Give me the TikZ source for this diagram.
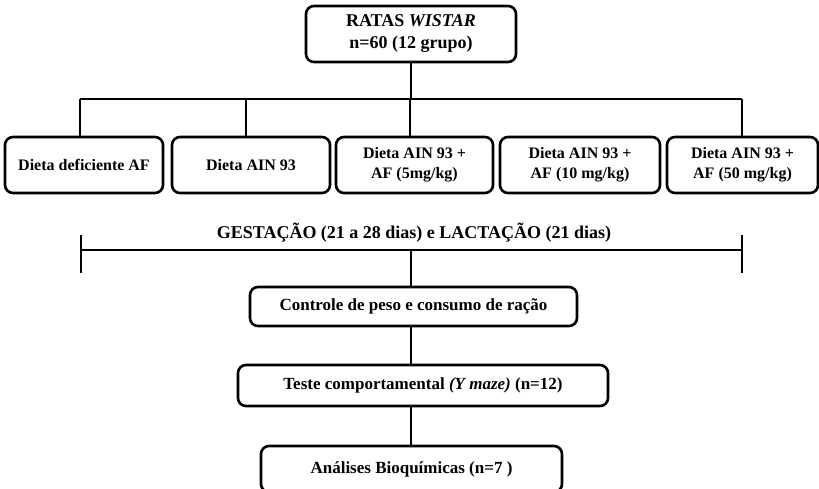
\documentclass[tikz,border=0pt]{standalone}
\usepackage{fontspec}
\setmainfont{Liberation Serif}
\begin{document}
\begin{tikzpicture}[x=1pt,y=-1pt,
  box/.style={draw,line width=2.6pt,rounded corners=8pt,align=center,font=\bfseries\fontsize{16}{20}\selectfont,inner sep=0pt},
  big/.style={font=\bfseries\fontsize{17}{20}\selectfont},
  conn/.style={line width=2.6pt},
]
\useasboundingbox (0,0) rectangle (819,488);
\node[box,minimum width=210pt,minimum height=56pt,font=\bfseries\fontsize{18}{22}\selectfont] (top) at (411,34) {RATAS \textit{WISTAR}\\n=60 (12 grupo)};
\node[box,minimum width=158pt,minimum height=56pt] (b1) at (84,165) {Dieta deficiente AF};
\node[box,minimum width=158pt,minimum height=56pt] (b2) at (251,165) {Dieta AIN 93};
\node[box,minimum width=157pt,minimum height=56pt,text depth=4pt] (b3) at (414.5,165) {Dieta AIN 93 +\\AF (5mg/kg)};
\node[box,minimum width=160pt,minimum height=56pt,text depth=4pt] (b4) at (580,165) {Dieta AIN 93 +\\AF (10 mg/kg)};
\node[box,minimum width=151pt,minimum height=56pt,text depth=4pt] (b5) at (742.5,165) {Dieta AIN 93 +\\AF (50 mg/kg)};
\coordinate (hl) at (80,99);
\coordinate (hr) at (742,99);
\coordinate (hm) at (411,99);
\coordinate (h2) at (246,99);
\coordinate (h3) at (410,99);
\draw[conn] (top.south) -- (hm);
\draw[conn] (hl) -- (hr);
\draw[conn] (hl) -- (hl |- b1.north);
\draw[conn] (h2) -- (h2 |- b2.north);
\draw[conn] (h3) -- (h3 |- b3.north);
\draw[conn] (hr) -- (hr |- b5.north);
\node[font=\bfseries\fontsize{18}{21}\selectfont] (gest) at (414,233) {GESTAÇÃO (21 a 28 dias) e LACTAÇÃO (21 dias)};
\coordinate (gl) at (81,250);
\coordinate (gr) at (742,250);
\coordinate (gm) at (411,250);
\coordinate (glt) at (81,235);
\coordinate (glb) at (81,273);
\coordinate (grt) at (742,235);
\coordinate (grb) at (742,273);
\draw[conn] (gl) -- (gr);
\draw[conn] (glt) -- (glb);
\draw[conn] (grt) -- (grb);
\node[box,big,minimum width=327pt,minimum height=39pt] (c1) at (413.5,306.5) {Controle de peso e consumo de ração};
\node[box,big,minimum width=370pt,minimum height=41pt] (c2) at (423,385.5) {Teste comportamental \textit{(Y maze)} (n=12)};
\node[box,big,minimum width=301pt,minimum height=46pt] (c3) at (411.5,469) {Análises Bioquímicas (n=7 )};
\draw[conn] (gm) -- (gm |- c1.north);
\draw[conn] (gm |- c1.south) -- (gm |- c2.north);
\draw[conn] (gm |- c2.south) -- (gm |- c3.north);
\end{tikzpicture}
\end{document}
